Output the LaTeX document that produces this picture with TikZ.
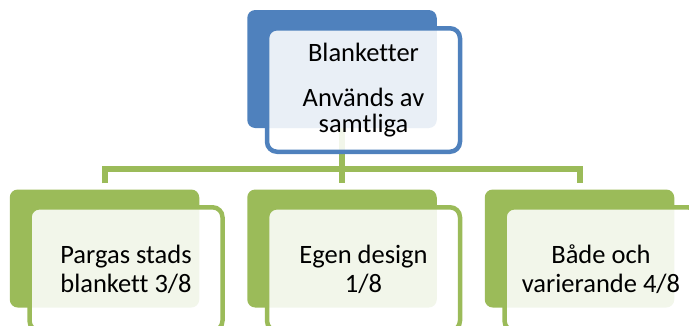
\documentclass[tikz,border=0pt]{standalone}
\usepackage{fontspec}
\setmainfont[Ligatures=NoCommon]{Carlito}
\usepackage{xcolor}
\usetikzlibrary{positioning}
\definecolor{accentblue}{HTML}{4F81BD}
\definecolor{accentgreen}{HTML}{9BBB59}
\pgfdeclarelayer{background}
\pgfsetlayers{background,main}

\begin{document}
\begin{tikzpicture}[x=1pt, y=-1pt,
    backbox/.style={rounded corners=8pt, minimum width=189.5pt, minimum height=118pt, inner sep=0pt},
    frontbox/.style={line width=4.5pt, rounded corners=10pt, fill=white, fill opacity=0.88, text opacity=1,
      minimum width=193pt, minimum height=123.5pt, inner sep=0pt, align=center},
    link/.style={draw=accentgreen, line width=6pt}]
  \useasboundingbox (0,0) rectangle (689,325);
  \pgfmathsetmacro{\xLeft}{104.5}
  \pgfmathsetmacro{\xMid}{342}
  \pgfmathsetmacro{\xRight}{579.5}
  \pgfmathsetmacro{\yBack}{248.5}
  \pgfmathsetmacro{\yFront}{269}

  % back boxes
  \node[backbox, fill=accentblue] (mainback) at (\xMid,69) {};
  \node[backbox, fill=accentgreen] (leftback) at (\xLeft,\yBack) {};
  \node[backbox, fill=accentgreen] (midback) at (\xMid,\yBack) {};
  \node[backbox, fill=accentgreen] (rightback) at (\xRight,\yBack) {};

  % connectors
  \coordinate (bus) at (\xMid,169);
  \begin{pgfonlayer}{background}
    \draw[link] (mainback.center) -- (bus);
    \draw[link, shorten <=6pt, shorten >=6pt] (leftback.north) |- (bus) -| (rightback.north);
    \draw[link, shorten >=6pt] (bus) -- (midback.north);
  \end{pgfonlayer}

  % front boxes
  \node[frontbox, draw=accentblue, font=\fontsize{26.5}{25.5}\selectfont] (main) at (\xMid+21.5,90)
    {Blanketter\\[20pt]Används av\\samtliga};
  \node[frontbox, draw=accentgreen, font=\fontsize{26.5}{29}\selectfont] (pargas) at (\xLeft+21.5,\yFront)
    {Pargas stads\\blankett 3/8};
  \node[frontbox, draw=accentgreen, font=\fontsize{26.5}{29}\selectfont] (egen) at (\xMid+21.5,\yFront)
    {Egen design\\1/8};
  \node[frontbox, draw=accentgreen, font=\fontsize{26.5}{29}\selectfont] (bade) at (\xRight+21.5,\yFront)
    {Både och\\varierande 4/8};
\end{tikzpicture}
\end{document}
